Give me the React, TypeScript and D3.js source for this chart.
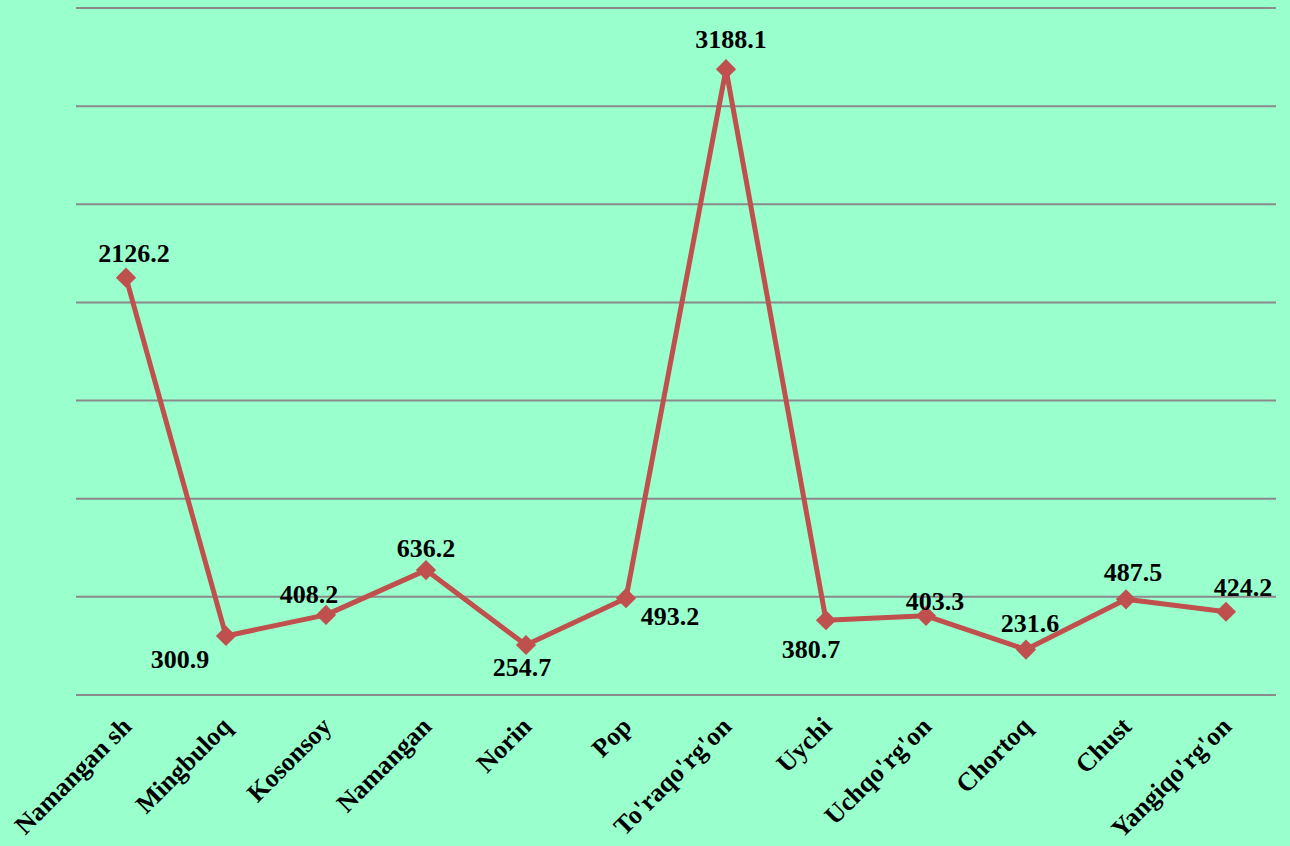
import React from 'react';
import * as d3 from 'd3';

const districts = [
  'Namangan sh', 'Mingbuloq', 'Kosonsoy', 'Namangan', 'Norin', 'Pop',
  "To'raqo'rg'on", 'Uychi', "Uchqo'rg'on", 'Chortoq', 'Chust', "Yangiqo'rg'on",
];
const values = [2126.2, 300.9, 408.2, 636.2, 254.7, 493.2, 3188.1, 380.7, 403.3, 231.6, 487.5, 424.2];
const gridTicks = [0, 500, 1000, 1500, 2000, 2500, 3000, 3500];

// hand placed data labels (dx, dy from the marker), like the original
const labelNudge: [number, number][] = [
  [8, -16], [-46, 32], [-17, -12], [0, -13], [-4, 31], [44, 27],
  [5, -21], [-15, 38], [9, -6], [4, -18], [7, -18], [17, -16],
];

const W = 1290;
const H = 846;
const left = 76, right = 1276, top = 8, bottom = 695;
const font = '"Liberation Serif", "Times New Roman", serif';

export default function App() {
  const x = d3.scalePoint<string>().domain(districts).range([left, right]).padding(0.5);
  const y = d3.scaleLinear().domain([0, 3500]).range([bottom, top]);

  const line = d3.line<number>()
    .x((d, i) => x(districts[i]) as number)
    .y(d => y(d));

  const diamond = d3.symbol().type(d3.symbolDiamond2).size(260)();

  return (
    <svg width={W} height={H} style={{ position: 'absolute', left: 0, top: 0, background: '#99FFCC' }}>
      <rect width={W} height={H} fill="#99FFCC" />
      {gridTicks.map(t => (
        <line key={t} x1={left} x2={right} y1={y(t)} y2={y(t)} stroke="#8A8A8A" strokeWidth={2} />
      ))}
      <path d={line(values) || ''} fill="none" stroke="#C0504D" strokeWidth={5} strokeLinejoin="round" />
      {values.map((v, i) => (
        <path key={i} d={diamond} transform={`translate(${x(districts[i])},${y(v)})`} fill="#C0504D" />
      ))}
      {values.map((v, i) => (
        <text key={'l' + i}
          x={(x(districts[i]) as number) + labelNudge[i][0]}
          y={y(v) + labelNudge[i][1]}
          textAnchor="middle" fontFamily={font} fontWeight="bold" fontSize={26} fill="#000">
          {v.toFixed(1)}
        </text>
      ))}
      {districts.map(d => {
        const tx = (x(d) as number) + 7;
        const ty = 728;
        return (
          <text key={d} x={tx} y={ty} transform={`rotate(-45,${tx},${ty})`}
            textAnchor="end" fontFamily={font} fontWeight="bold" fontSize={26} fill="#000">
            {d}
          </text>
        );
      })}
    </svg>
  );
}
